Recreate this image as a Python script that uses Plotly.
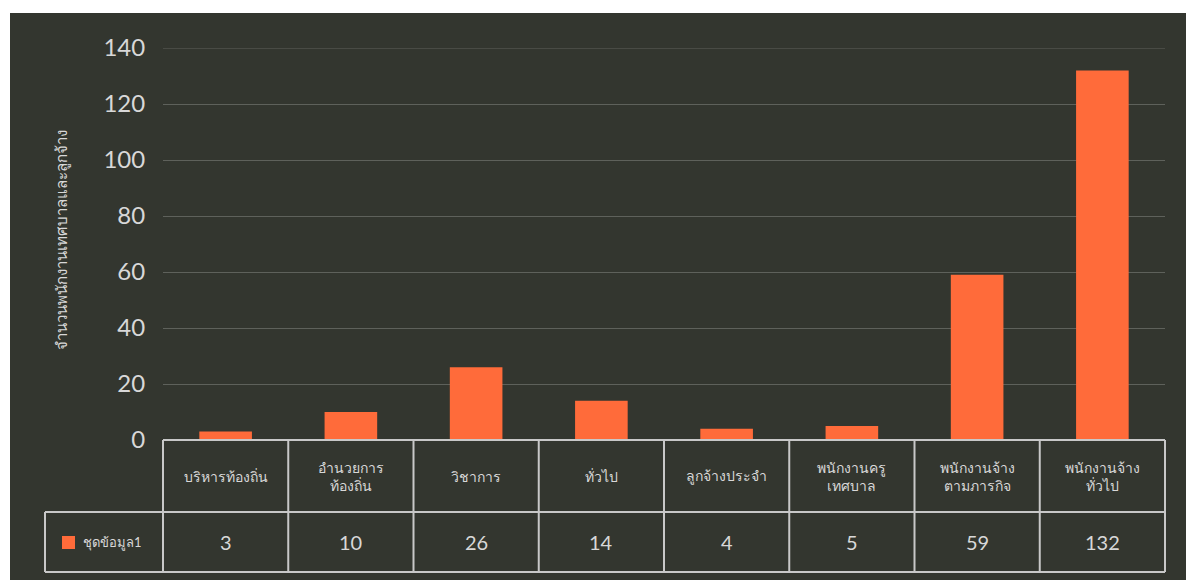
import plotly.graph_objects as go

categories = [
    "บริหารท้องถิ่น",
    "อำนวยการ<br>ท้องถิ่น",
    "วิชาการ",
    "ทั่วไป",
    "ลูกจ้างประจำ",
    "พนักงานครู<br>เทศบาล",
    "พนักงานจ้าง<br>ตามภารกิจ",
    "พนักงานจ้าง<br>ทั่วไป",
]
values = [3, 10, 26, 14, 4, 5, 59, 132]
series_name = "ชุดข้อมูล1"
y_title = "จำนวนพนักงานเทศบาลและลูกจ้าง"
y_ticks = [0, 20, 40, 60, 80, 100, 120, 140]

W, H = 1186, 580
L, R, T, B = 163, 21, 48, 140
pw, ph = W - L - R, H - T - B

def px_x(x):
    return (x - L) / pw

def px_y(y):
    return (H - B - y) / ph

BAR = "#ff6b3a"
TXT = "#d8d8d8"
LINE = "#c8c8c8"
BG = "#33362f"
GRID = "rgba(210,210,210,0.28)"

fig = go.Figure()
xs = list(range(len(values)))
fig.add_trace(go.Bar(x=xs, y=values, marker=dict(color=BAR, line=dict(width=0)),
                     name=series_name, showlegend=False))

shapes = []
# dark background panel
shapes.append(dict(type="rect", xref="paper", yref="paper", layer="below",
                   x0=px_x(10), x1=px_x(W + 5), y0=px_y(H + 5), y1=px_y(13),
                   fillcolor=BG, line=dict(width=0)))
# top gridline
shapes.append(dict(type="line", xref="paper", yref="y", layer="below",
                   x0=0, x1=1, y0=y_ticks[-1], y1=y_ticks[-1],
                   line=dict(color=GRID, width=1)))

n = len(values)
y_top = px_y(440)
y_mid = px_y(512)
y_bot = px_y(572)
x_left = px_x(45)
# horizontal lines
shapes.append(dict(type="line", xref="paper", yref="paper", x0=0, x1=1, y0=y_top, y1=y_top,
                   line=dict(color=LINE, width=2)))
for yy in (y_mid, y_bot):
    shapes.append(dict(type="line", xref="paper", yref="paper", x0=x_left, x1=1, y0=yy, y1=yy,
                       line=dict(color=LINE, width=2)))
# vertical lines
for i in range(n + 1):
    xx = i / n
    shapes.append(dict(type="line", xref="paper", yref="paper", x0=xx, x1=xx, y0=y_top, y1=y_bot,
                       line=dict(color=LINE, width=2)))
shapes.append(dict(type="line", xref="paper", yref="paper", x0=x_left, x1=x_left, y0=y_mid, y1=y_bot,
                   line=dict(color=LINE, width=2)))
# legend key
shapes.append(dict(type="rect", xref="paper", yref="paper",
                   x0=px_x(62), x1=px_x(75), y0=px_y(549), y1=px_y(536),
                   fillcolor=BAR, line=dict(width=0)))

annotations = []
for i, (c, v) in enumerate(zip(categories, values)):
    cx = (i + 0.5) / n
    annotations.append(dict(xref="paper", yref="paper", x=cx, y=(y_top + y_mid) / 2,
                            text=c, showarrow=False, xanchor="center", yanchor="middle",
                            font=dict(size=14, color=TXT), align="center"))
    annotations.append(dict(xref="paper", yref="paper", x=cx, y=(y_mid + y_bot) / 2,
                            text=str(v), showarrow=False, xanchor="center", yanchor="middle",
                            font=dict(size=20, color=TXT)))
annotations.append(dict(xref="paper", yref="paper", x=px_x(81), y=(y_mid + y_bot) / 2,
                        text=series_name, showarrow=False, xanchor="left", yanchor="middle",
                        font=dict(size=13, color=TXT)))
annotations.append(dict(xref="paper", yref="paper", x=px_x(61), y=px_y(240),
                        text=y_title, showarrow=False, textangle=-90,
                        xanchor="center", yanchor="middle",
                        font=dict(size=15, color=TXT)))

fig.update_layout(
    width=W, height=H,
    margin=dict(l=L, r=R, t=T, b=B, pad=0),
    paper_bgcolor="white",
    plot_bgcolor="rgba(0,0,0,0)",
    bargap=0.58,
    font=dict(family="Lato, Noto Sans, sans-serif", color=TXT),
    xaxis=dict(range=[-0.5, n - 0.5], showticklabels=False, showgrid=False,
               zeroline=False, showline=False, ticks=""),
    yaxis=dict(range=[0, 140], tickvals=y_ticks, showgrid=True,
               gridcolor=GRID, gridwidth=1,
               zeroline=False, showline=False, ticks="outside", ticklen=12,
               tickcolor="rgba(0,0,0,0)",
               tickfont=dict(size=24, color=TXT, family="Lato, Noto Sans, sans-serif")),
    shapes=shapes,
    annotations=annotations,
    showlegend=False,
)

fig.write_html("out.html")
